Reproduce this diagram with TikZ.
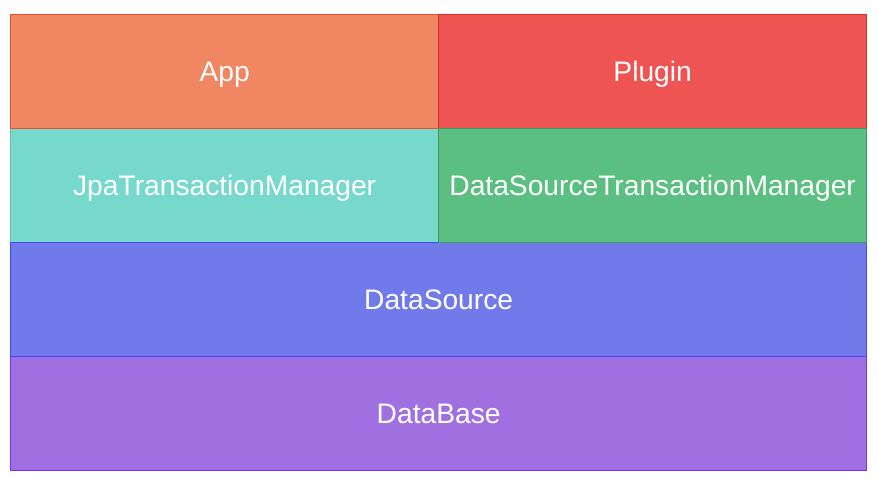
\documentclass[tikz,border=0pt]{standalone}
\usepackage{fontspec}
\setmainfont{Liberation Sans}
\definecolor{appFill}{HTML}{F08662}
\definecolor{appLine}{HTML}{E8502E}
\definecolor{pluginFill}{HTML}{EE5452}
\definecolor{pluginLine}{HTML}{D0302A}
\definecolor{jpaFill}{HTML}{76D9CC}
\definecolor{jpaLine}{HTML}{5CC2B0}
\definecolor{dstmFill}{HTML}{5ABF80}
\definecolor{dstmLine}{HTML}{3E9A5C}
\definecolor{dsFill}{HTML}{717AEB}
\definecolor{dsLine}{HTML}{3D4BF5}
\definecolor{dbFill}{HTML}{A070E0}
\definecolor{dbLine}{HTML}{7B2FF0}
\begin{document}
\begin{tikzpicture}[x=1pt, y=-1pt, layer style/.style={rectangle, draw, line width=1.3pt, anchor=north west, minimum height=114pt, inner sep=0pt, text height=20pt, text depth=0pt, text=white, font=\fontsize{28.2}{33}\selectfont}, half style/.style={minimum width=428pt}, full style/.style={minimum width=856pt}]
	\useasboundingbox (0,0) rectangle (878,488);
	\node[layer style, half style, draw=jpaLine, fill=jpaFill] (L3) at (10,128) {JpaTransactionManager};
	\node[layer style, half style, draw=appLine, fill=appFill] (L1) at (10,14) {App};
	\node[layer style, half style, draw=pluginLine, fill=pluginFill] (L2) at (438,14) {Plugin};
	\node[layer style, full style, draw=dbLine, fill=dbFill] (L6) at (10,356) {DataBase};
	\node[layer style, full style, draw=dsLine, fill=dsFill] (L5) at (10,242) {DataSource};
	\node[layer style, half style, draw=dstmLine, fill=dstmFill] (L4) at (438,128) {DataSourceTransactionManager};
\end{tikzpicture}
\end{document}
